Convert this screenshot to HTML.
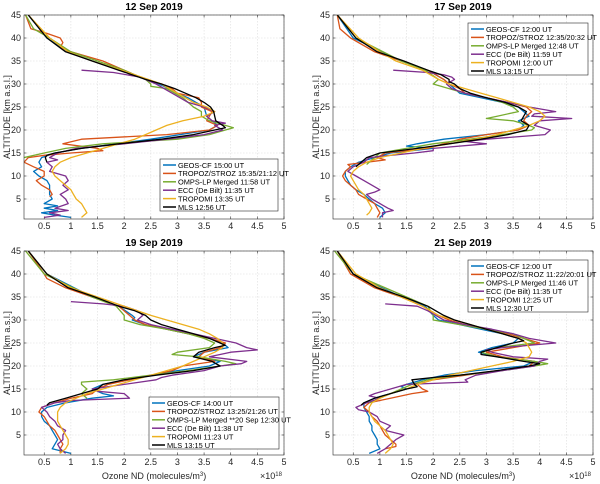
<!DOCTYPE html>
<html><head><meta charset="utf-8"><style>
html,body{margin:0;padding:0;background:#fff}
svg{display:block;font-family:"Liberation Sans",sans-serif}
</style></head><body>
<svg id="chart" width="600" height="484" viewBox="0 0 600 484" xmlns="http://www.w3.org/2000/svg"></svg>
<script>
const xTicks=[0.5,1,1.5,2,2.5,3,3.5,4,4.5,5];
const yTicks=[5,10,15,20,25,30,35,40,45];
const panelTitles=["12 Sep 2019","17 Sep 2019","19 Sep 2019","21 Sep 2019"];
const seriesNames=["GEOS-CF","TROPOZ/STROZ","OMPS-LP Merged","ECC (De Bilt)","TROPOMI","MLS"];
const legend1=["GEOS-CF 15:00 UT","TROPOZ/STROZ 15:35/21:12 UT","OMPS-LP Merged 11:58 UT","ECC (De Bilt) 11:35 UT","TROPOMI 13:35 UT","MLS  12:56 UT"];
const legend2=["GEOS-CF 12:00 UT","TROPOZ/STROZ 12:35/20:32 UT","OMPS-LP Merged 12:48 UT","ECC (De Bilt) 11:59 UT","TROPOMI 12:00 UT","MLS  13:15 UT"];
const legend3=["GEOS-CF 14:00 UT","TROPOZ/STROZ 13:25/21:26 UT","OMPS-LP Merged **20 Sep 12:30 UT","ECC (De Bilt) 11:38 UT","TROPOMI 11:23 UT","MLS  13:15 UT"];
const legend4=["GEOS-CF 12:00 UT","TROPOZ/STROZ 11:22/20:01 UT","OMPS-LP Merged 11:46 UT","ECC (De Bilt) 11:35  UT","TROPOMI 12:25 UT","MLS  12:30 UT"];

// [altitude km, ozone ND x1e18]
const p1_geos=[[45,0.2],[40,0.55],[37,0.95],[35,1.4],[33,1.95],[31,2.4],[30,2.65],[29,2.85],[28,3.0],[27,3.2],[26,3.35],[25,3.5],[23,3.55],[21,3.75],[20,3.6],[18,2.5],[16,1.2],[15,0.7],[14,0.45],[13,0.4],[12,0.45],[11,0.3],[10,0.4],[9,0.55],[8,0.6],[7,0.6],[6,0.6],[5,0.65],[4,0.5],[3.5,0.75],[3,0.5],[2.5,0.75],[2,0.45],[1.5,0.7],[1,1.0]];
const p1_tropoz=[[45,0.15],[42,0.25],[41,0.55],[40,0.8],[39,0.85],[38,0.8],[37,1.0],[36,1.3],[35,1.6],[33,2.0],[31,2.4],[30,2.7],[29,2.9],[28,3.0],[27,3.4],[26,3.45],[25,3.45],[24,3.65],[23,3.6],[22,3.55],[21,3.75],[20,3.6],[19,2.8],[18,1.2],[17,0.85],[16,1.5],[15.5,1.6],[15,1.0],[14.5,0.5],[14,0.2],[13,0.12],[12,0.3],[11,0.5],[10,0.5],[9,0.35],[8,0.45],[7,0.6],[6,0.65],[5.5,0.6]];
const p1_omps=[[45,0.15],[42,0.3],[40,0.6],[37,1.0],[35,1.5],[33,2.0],[31,2.4],[30,2.5],[29.5,2.5],[29,2.8],[28,2.95],[27,3.1],[26,3.2],[25,3.3],[24,3.45],[23,3.45],[22,3.6],[21,3.9],[20.5,4.05],[20,3.9],[19,3.6],[18,3.0],[17,1.6],[16,0.9],[15,0.5],[14,0.12]];
const p1_ecc=[[33,1.2],[32.5,1.8],[31.5,2.3],[30,2.6],[28,2.9],[26,3.2],[25,3.5],[24,3.7],[23,3.55],[22,3.65],[21.5,3.9],[21,3.7],[20,3.85],[19,3.5],[18,2.8],[17,2.0],[16,1.1],[15,0.75],[14,0.6],[13.5,0.75],[13,0.55],[12,0.65],[11,0.6],[10,0.9],[9,0.95],[8,0.85],[7,0.95],[6,0.8],[5,0.9],[4,0.95],[3,0.7],[2.5,0.95],[2,0.6],[1.5,0.8],[1,0.5]];
const p1_tropomi=[[45,0.2],[40,0.6],[37,0.95],[35,1.4],[33,1.95],[31,2.45],[30,2.7],[28,3.0],[26,3.3],[25,3.55],[24,3.7],[23,3.5],[22,3.1],[21,2.8],[20,2.6],[19,2.4],[18,2.2],[17,1.9],[16,1.6],[15,1.3],[14,1.0],[13,0.8],[12,0.7],[11,0.65],[10,0.7],[9,0.8],[8,0.9],[7,1.0],[6,1.05],[5,1.1],[4,1.2],[3,1.25],[2,1.3],[1,1.2]];
const p1_mls=[[45,0.2],[40,0.55],[37,0.9],[35,1.4],[33,1.9],[31,2.4],[30,2.7],[29,2.95],[28,3.15],[27,3.35],[26,3.5],[25,3.62],[24,3.68],[23,3.7],[22,3.72],[21,3.85],[20.5,3.9],[20,3.7],[19,3.3],[18,2.7],[17,1.9],[16,1.2],[15,0.7],[14.5,0.55],[14,0.52],[13,0.55]];

const p2_geos=[[45,0.2],[40,0.5],[35,1.4],[33,1.9],[31,2.2],[30,2.3],[29,2.4],[28,2.5],[27,2.9],[26,3.3],[25,3.6],[24,3.7],[23,3.8],[22,3.6],[21,3.7],[20,3.6],[19,3.0],[18,2.2],[17,1.7],[16.5,1.5],[16,2.0],[15,1.2],[14,0.9],[13,0.6],[12,0.45],[11,0.35],[10,0.35],[9,0.4],[8,0.45],[7,0.55],[6,0.7],[5,0.8],[4,0.9],[3,1.05],[2,1.1],[1,1.0]];
const p2_tropoz=[[45,0.2],[42,0.25],[40,0.45],[37,0.9],[35,1.4],[33,1.9],[31,2.2],[30,2.3],[29,2.5],[28,2.6],[27,3.0],[26,3.4],[25,3.75],[24,3.85],[23,3.75],[22,3.7],[21,3.8],[20,3.6],[19,3.0],[18,2.5],[17,2.2],[16,1.9],[15,1.1],[14,0.95],[13.5,1.1],[13,0.75],[12.5,0.4],[12,0.45],[11,0.35],[10,0.3],[9,0.35],[8,0.45],[7,0.55],[6,0.6],[5,0.75],[4,0.9],[3,0.95],[2,1.0],[1,0.95]];
const p2_omps=[[45,0.2],[40,0.55],[35,1.4],[33,1.85],[31,2.1],[30,2.0],[29,2.3],[28,2.6],[27,3.0],[26,3.3],[25,3.5],[24,3.6],[23,3.2],[22.5,3.0],[22,3.5],[21,3.8],[20.5,3.9],[20,3.85],[19,3.3],[18,2.7],[17,2.0],[16,1.5],[15,1.0],[14,0.9],[13,0.8],[12.5,0.75]];
const p2_ecc=[[33,1.25],[32.5,1.9],[32,2.2],[31.5,2.35],[31,2.4],[30,2.25],[29,2.35],[28,2.6],[27,3.0],[26,3.4],[25,3.8],[24,4.3],[23.5,3.9],[23,3.85],[22.5,4.6],[22,4.0],[21,3.9],[20,4.2],[19,4.1],[18,3.0],[17.5,2.6],[17,3.0],[16,2.0],[15.5,2.0],[15,1.65],[14.5,1.2],[14,0.8],[13,0.7],[12,0.5],[11,0.4],[10,0.55],[9,0.7],[8,0.85],[7,1.0],[6.5,0.9],[6,0.75],[5,0.85],[4,1.0],[3,1.15],[2.5,1.25],[2,1.05],[1,1.05]];
const p2_tropomi=[[45,0.2],[40,0.6],[37,1.0],[35,1.3],[33,1.8],[31,2.1],[30,2.3],[29,2.6],[28,2.9],[27,3.2],[26,3.5],[25,3.8],[24,4.0],[23,4.1],[22,4.0],[21,3.8],[20,3.5],[19,3.2],[18,2.8],[17,2.3],[16,1.8],[15,1.4],[14,1.0],[13,0.75],[12,0.6],[11,0.5],[10,0.45],[9,0.5],[8,0.55],[7,0.6],[6,0.7],[5,0.75],[4,0.8],[3,0.85],[2,0.8],[1.5,0.75]];
const p2_mls=[[45,0.2],[40,0.55],[37,0.95],[35,1.45],[33,1.9],[32,2.15],[31,2.3],[30.5,2.3],[30,2.4],[29,2.5],[28,2.7],[27,3.0],[26,3.35],[25,3.6],[24,3.75],[23,3.7],[22,3.65],[21,3.8],[20,3.75],[19,3.4],[18,2.9],[17,2.3],[16,1.7],[15,1.0],[14,0.75],[13,0.65],[12,0.55]];

const p3_geos=[[45,0.2],[40,0.55],[35,1.4],[33,1.9],[31,2.15],[30.5,2.2],[30,2.15],[29,2.4],[28,2.8],[27,3.2],[26,3.6],[25,3.85],[24,3.95],[23,3.5],[22,3.3],[21,3.8],[20,3.6],[19,3.0],[18,2.5],[17,2.1],[16,1.6],[15,1.4],[14,1.6],[13.5,1.8],[13,1.4],[12,0.9],[11,0.55],[10,0.45],[9,0.45],[8,0.5],[7,0.6],[6,0.65],[5,0.7],[4,0.75],[3,0.7],[2,0.65],[1,1.0]];
const p3_tropoz=[[45,0.2],[40,0.5],[39,0.55],[37,0.9],[35,1.4],[33,1.9],[31,2.1],[30,2.2],[29,2.4],[28,2.8],[27,3.2],[26,3.6],[25,3.9],[24,3.8],[23,3.5],[22,3.4],[21,3.7],[20,3.1],[19,2.9],[18,2.5],[17,2.1],[16,1.7],[15,1.5],[14,1.4],[13,1.0],[12,0.7],[11,0.45],[10,0.4],[9,0.5],[8,0.55],[7,0.6],[6,0.7],[5,0.75],[4,0.8],[3,0.85],[2,0.8],[1,0.8]];
const p3_omps=[[45,0.15],[40,0.5],[35,1.4],[33,1.85],[31,2.0],[30,2.0],[29,2.3],[28,2.8],[27,3.2],[26,3.5],[25,3.7],[24,3.6],[23,3.0],[22.5,2.9],[22,3.4],[21,3.9],[20.5,4.1],[20,3.8],[19,3.2],[18,2.5],[17,1.8],[16.5,1.2],[16,1.2],[15,1.3],[14,1.2],[13,1.3]];
const p3_ecc=[[34,1.0],[33.5,1.6],[33,2.0],[32,2.25],[31,2.35],[30,2.25],[29,2.5],[28,2.9],[27,3.3],[26,3.7],[25,4.1],[24,4.3],[23.5,4.5],[23,4.0],[22,3.6],[21,4.3],[20.5,4.2],[20,3.8],[19,3.5],[18,2.9],[17.5,2.7],[17,2.6],[16,2.0],[15,1.4],[14.5,1.5],[14,2.0],[13,2.1],[12.5,1.0],[12,0.7],[11,0.45],[10,0.55],[9,0.6],[8,0.7],[7,0.75],[6,0.9],[5,0.85],[4,0.85],[3,0.75],[2,0.8],[1,0.9]];
const p3_tropomi=[[45,0.2],[40,0.55],[37,1.0],[35,1.5],[33,2.0],[31,2.5],[30,2.8],[29,3.1],[28,3.4],[27,3.6],[26,3.75],[25,3.85],[24,3.85],[23,3.7],[22,3.5],[21,3.3],[20,3.1],[19,2.8],[18,2.5],[17,2.2],[16,1.9],[15,1.6],[14,1.3],[13,1.1],[12,0.9],[11,0.8],[10,0.75],[9,0.75],[8,0.75],[7,0.8],[6,0.85],[5,0.9],[4,0.95],[3,0.95],[2,0.9],[1,0.8]];
const p3_mls=[[45,0.2],[40,0.55],[37,0.95],[35,1.45],[33,1.9],[32,2.2],[31,2.4],[30,2.5],[29,2.7],[28,3.0],[27,3.3],[26,3.6],[25,3.8],[24.5,3.9],[24,3.7],[23,3.4],[22,3.3],[21,3.65],[20,3.8],[19,3.3],[18,2.6],[17,2.0],[16,1.6],[15,1.5],[14,1.2],[13,0.9],[12,0.6],[11.5,0.55]];

const p4_geos=[[45,0.2],[40,0.5],[35,1.4],[33,1.85],[31,2.0],[30,2.1],[29,2.5],[28,2.9],[27,3.3],[26,3.6],[25,3.5],[24,3.1],[23,2.85],[22,3.2],[21,3.9],[20,3.7],[19,2.8],[18,2.2],[17,1.8],[16,1.5],[15.5,1.4],[15,1.5],[14,1.2],[13,0.9],[12,0.7],[11,0.7],[10,0.75],[9,0.8],[8,0.8],[7,0.85],[6,0.85],[5,0.9],[4,0.95],[3,0.95],[2,1.0],[1,0.8]];
const p4_tropoz=[[45,0.2],[40,0.45],[37,0.9],[35,1.4],[33,1.8],[31,2.1],[30,2.3],[29,2.6],[28,3.0],[27,3.4],[26,3.7],[25,4.0],[24,3.5],[23,3.0],[22,3.3],[21,3.9],[20,3.8],[19,3.2],[18,2.6],[17,2.0],[16,1.7],[15,1.8],[14.5,1.9],[14,1.6],[13,1.2],[12,0.8],[11,0.7],[10,0.8],[9,0.85],[8,0.95],[7,1.0],[6,1.05],[5,1.1],[4,1.2],[3,1.3],[2.5,1.3],[2,1.1]];
const p4_omps=[[45,0.15],[40,0.5],[35,1.5],[33,1.9],[31,2.0],[30,2.0],[29,2.5],[28,3.0],[27,3.5],[26,3.7],[25,3.9],[24,3.2],[23,2.9],[22,3.2],[21,3.9],[20.5,4.15],[20,3.9],[19,3.3],[18,2.5],[17,1.9],[16,1.6],[15,1.4],[14,1.2],[13,1.0],[12,0.8]];
const p4_ecc=[[33.5,1.1],[33,1.7],[32,1.9],[31,2.05],[30,2.2],[29,2.6],[28,3.1],[27,3.5],[26,3.8],[25,4.3],[24,3.3],[23.5,3.0],[23,3.1],[22,3.5],[21.5,4.15],[21,4.0],[20,3.9],[19,3.3],[18,2.8],[17,2.6],[16.5,2.65],[16,1.5],[15,1.2],[14,0.9],[13.5,0.8],[13,1.0],[12,0.75],[11,0.55],[10.5,0.6],[10,0.8],[9,0.95],[8,1.0],[7,1.2],[6,1.1],[5,1.45],[4,1.3],[3,1.2],[2,1.1],[1,0.95]];
const p4_tropomi=[[45,0.2],[40,0.55],[37,1.0],[35,1.4],[33,1.8],[31,2.1],[30,2.4],[29,2.7],[28,3.0],[27,3.3],[26,3.6],[25,3.75],[24,3.8],[23,3.85],[22,3.8],[21,3.5],[20,3.1],[19,2.7],[18,2.3],[17,2.0],[16,1.7],[15,1.5],[14,1.2],[13,1.0],[12,0.85],[11,0.8],[10,0.8],[9,0.85],[8,0.9],[7,1.0],[6,1.1],[5,1.15],[4,1.2],[3,1.25],[2,1.2],[1,1.1]];
const p4_mls=[[45,0.2],[40,0.5],[37,0.95],[35,1.45],[33,1.9],[32,2.05],[31,2.2],[30,2.4],[29,2.7],[28,3.0],[27,3.3],[26,3.6],[25.5,3.7],[25,3.5],[24,3.2],[23,2.9],[22.5,2.9],[22,3.2],[21,3.7],[20.5,4.0],[20,3.8],[19,3.2],[18,2.5],[17.5,2.0],[17,1.6],[16,1.65],[15.5,1.7],[15,1.5],[14,1.2],[13,0.9],[12,0.7],[11.5,0.65]];

const colors=["#0072BD","#D95319","#77AC30","#7E2F8E","#EDB120","#000000"];
const NS="http://www.w3.org/2000/svg";
const svg=document.getElementById('chart');
function mk(tag,attrs,parent){const e=document.createElementNS(NS,tag);for(const k in attrs)e.setAttribute(k,attrs[k]);(parent||svg).appendChild(e);return e;}
const W=260,H=204,XMIN=0.12,XMAX=5,YMIN=0.65,YMAX=45;
const panels=[
 {ox:24,oy:15,data:[p1_geos,p1_tropoz,p1_omps,p1_ecc,p1_tropomi,p1_mls],leg:legend1,lx:160,ly:159,lw:118,ylab:7,xlab:false},
 {ox:333,oy:15,data:[p2_geos,p2_tropoz,p2_omps,p2_ecc,p2_tropomi,p2_mls],leg:legend2,lx:468,ly:23,lw:120,ylab:316,xlab:false},
 {ox:24,oy:251,data:[p3_geos,p3_tropoz,p3_omps,p3_ecc,p3_tropomi,p3_mls],leg:legend3,lx:149,ly:397,lw:130,ylab:7,xlab:true},
 {ox:333,oy:251,data:[p4_geos,p4_tropoz,p4_omps,p4_ecc,p4_tropomi,p4_mls],leg:legend4,lx:468,ly:260,lw:120,ylab:316,xlab:true}];
panels.forEach((p,pi)=>{
 const g=mk('g',{});
 
 
 const sx=v=>p.ox+(v-XMIN)/(XMAX-XMIN)*W;
 const sy=v=>p.oy+H-(v-YMIN)/(YMAX-YMIN)*H;
 const cid='clip'+pi;
 const cp=mk('clipPath',{id:cid},g);mk('rect',{x:p.ox,y:p.oy,width:W,height:H},cp);
 mk('rect',{x:p.ox,y:p.oy,width:W,height:H,fill:'#fff'},g);
 xTicks.forEach(t=>{
  const x=sx(t);
  const gl=mk('line',{x1:x,x2:x,y1:p.oy,y2:p.oy+H,stroke:'#dcdcdc','stroke-width':0.6,'stroke-dasharray':'1.5,1.5'},g);
  
  mk('line',{x1:x,x2:x,y1:p.oy+H,y2:p.oy+H-2.5,stroke:'#333','stroke-width':0.6},g);
  mk('line',{x1:x,x2:x,y1:p.oy,y2:p.oy+2.5,stroke:'#333','stroke-width':0.6},g);
  const tl=mk('text',{x:x,y:p.oy+H+10,'font-size':9,'text-anchor':'middle',fill:'#262626'},g);tl.textContent=t;
  
 });
 yTicks.forEach(t=>{
  const y=sy(t);
  const gl=mk('line',{x1:p.ox,x2:p.ox+W,y1:y,y2:y,stroke:'#dcdcdc','stroke-width':0.6,'stroke-dasharray':'1.5,1.5'},g);
  
  mk('line',{x1:p.ox,x2:p.ox+2.5,y1:y,y2:y,stroke:'#333','stroke-width':0.6},g);
  mk('line',{x1:p.ox+W,x2:p.ox+W-2.5,y1:y,y2:y,stroke:'#333','stroke-width':0.6},g);
  const tl=mk('text',{x:p.ox-3,y:y+3,'font-size':9,'text-anchor':'end',fill:'#262626'},g);tl.textContent=t;
  
 });
 const lines=mk('g',{'clip-path':'url(#'+cid+')'},g);
 p.data.forEach((s,si)=>{
  const d=s.map((pt,i)=>(i?'L':'M')+sx(pt[1]).toFixed(1)+','+sy(pt[0]).toFixed(1)).join('');
  const path=mk('path',{d:d,fill:'none',stroke:colors[si],'stroke-width':1.3,'stroke-linejoin':'round'},lines);
  
  
 });
 mk('rect',{x:p.ox,y:p.oy,width:W,height:H,fill:'none',stroke:'#262626','stroke-width':0.6},g);
 const ti=mk('text',{x:p.ox+W/2,y:p.oy-5,'font-size':10,'font-weight':'bold','text-anchor':'middle',fill:'#000'},g);ti.textContent=panelTitles[pi];
 
 const yl=mk('text',{x:0,y:0,'font-size':9,'text-anchor':'middle',fill:'#262626',transform:'translate('+(p.ylab+3)+','+(p.oy+H/2)+') rotate(-90)'},g);yl.textContent='ALTITUDE [km a.s.l.]';
 
 if(p.xlab){
  const xl=mk('text',{x:p.ox+W/2,y:p.oy+H+24,'font-size':9,'text-anchor':'middle',fill:'#262626'},g);
  
  xl.appendChild(document.createTextNode('Ozone ND (molecules/m'));
  const sup=mk('tspan',{'font-size':6,dy:-3},xl);sup.textContent='3';
  const t2=mk('tspan',{dy:3},xl);t2.textContent=')';
  const ex=mk('text',{x:p.ox+W-24,y:p.oy+H+24,'font-size':9,fill:'#262626'},g);
  
  ex.appendChild(document.createTextNode('×10'));
  const s2=mk('tspan',{'font-size':6,dy:-3},ex);s2.textContent='18';
 }
 const lg=mk('g',{},g);
 
 mk('rect',{x:p.lx,y:p.ly,width:p.lw,height:52,fill:'#fff',stroke:'#262626','stroke-width':0.6},lg);
 p.leg.forEach((txt,i)=>{
  const y=p.ly+6+i*8.4;
  const e=mk('g',{},lg);
  
  mk('line',{x1:p.lx+3,x2:p.lx+16,y1:y,y2:y,stroke:colors[i],'stroke-width':1.5},e);
  const t=mk('text',{x:p.lx+18,y:y+2.8,'font-size':7.4,fill:'#000'},e);t.textContent=txt;
 });
});
</script>
</body></html>
